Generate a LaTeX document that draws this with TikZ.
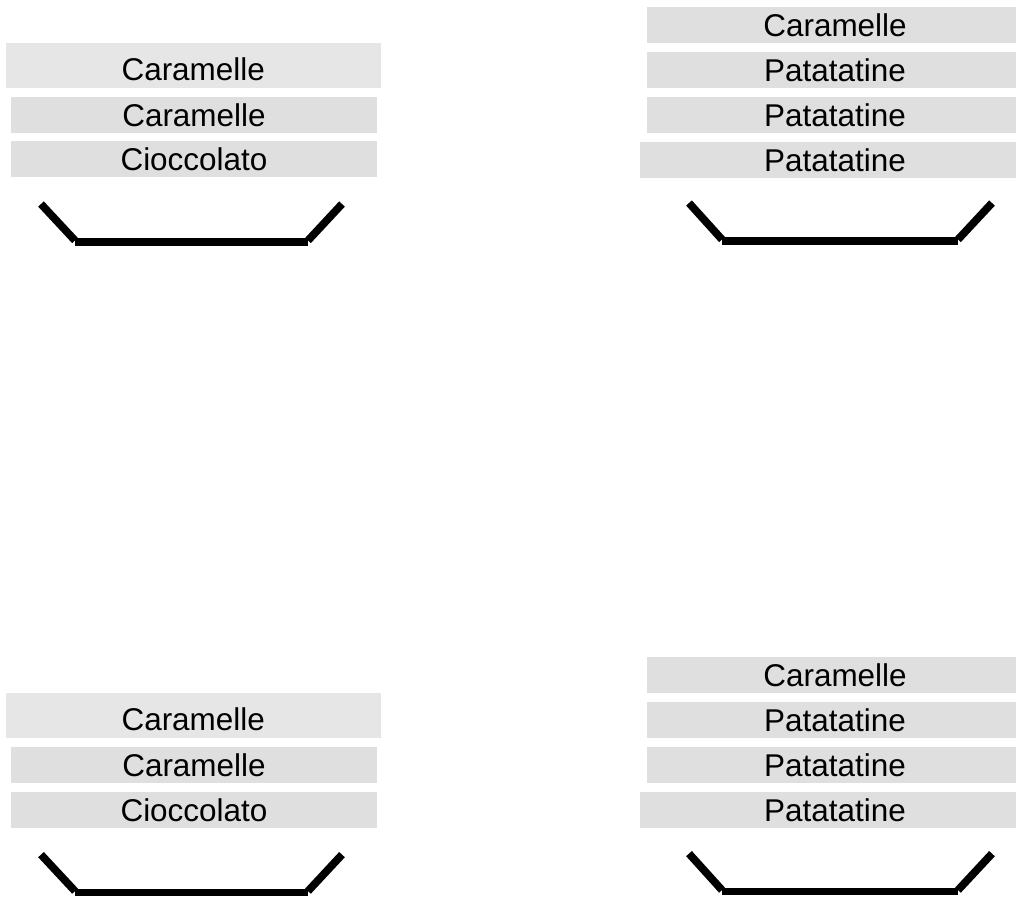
\documentclass[tikz,border=0pt]{standalone}
\usepackage{fontspec}
\setmainfont{Liberation Sans}
\usepackage{tikz}

\definecolor{barlight}{HTML}{E6E6E6}
\definecolor{bargray}{HTML}{DFDFDF}

\begin{document}
\begin{tikzpicture}[x=0.75pt,y=0.75pt]
\tikzstyle{every node}+=[inner sep=0pt]
\tikzstyle{bar}=[fill=bargray, minimum height=27pt, text height=17pt, text depth=0pt,
  font=\fontsize{23.6pt}{28pt}\selectfont]
\tikzstyle{tray}=[line width=5.8pt, line cap=butt, black]
\useasboundingbox (0,0) rectangle (1016,-897);
\clip (0,0) rectangle (1016,-897);
% top left
\node [bar, fill=barlight, minimum width=281.6pt, minimum height=33.75pt, text height=22.4pt] (tlA) at (193.25,-65.1) {Caramelle};
\node [bar, minimum width=274.5pt] (tlB) at (194,-114.7) {Caramelle};
\node [bar, minimum width=274.5pt] (tlC) at (194,-159.2) {Cioccolato};
\draw [tray] (41,-204) -- (75,-240.5);
\draw [tray] (75,-242) -- (308,-242);
\draw [tray] (308,-240.5) -- (342,-204);
% top right
\node [bar, minimum width=282.4pt] (trA) at (835,-24.7) {Caramelle};
\node [bar, minimum width=282.4pt] (trB) at (835,-69.7) {Patatatine};
\node [bar, minimum width=282.4pt] (trC) at (835,-114.7) {Patatatine};
\node [bar, minimum width=292.5pt] (trD) at (835,-159.7) {Patatatine};
\draw [tray] (689,-203) -- (722,-239.5);
\draw [tray] (722,-240.8) -- (958,-240.8);
\draw [tray] (958,-239.5) -- (992,-203);
% bottom left
\node [bar, fill=barlight, minimum width=281.6pt, minimum height=33.75pt, text height=22.4pt] (blA) at (193.25,-715.7) {Caramelle};
\node [bar, minimum width=274.5pt] (blB) at (194,-765.3) {Caramelle};
\node [bar, minimum width=274.5pt] (blC) at (194,-809.8) {Cioccolato};
\draw [tray] (41,-854.6) -- (75,-891.1);
\draw [tray] (75,-892.6) -- (308,-892.6);
\draw [tray] (308,-891.1) -- (342,-854.6);
% bottom right
\node [bar, minimum width=282.4pt] (brA) at (835,-675.3) {Caramelle};
\node [bar, minimum width=282.4pt] (brB) at (835,-720.3) {Patatatine};
\node [bar, minimum width=282.4pt] (brC) at (835,-765.3) {Patatatine};
\node [bar, minimum width=292.5pt] (brD) at (835,-810.3) {Patatatine};
\draw [tray] (689,-853.6) -- (722,-890.1);
\draw [tray] (722,-891.4) -- (958,-891.4);
\draw [tray] (958,-890.1) -- (992,-853.6);
\end{tikzpicture}
\end{document}
